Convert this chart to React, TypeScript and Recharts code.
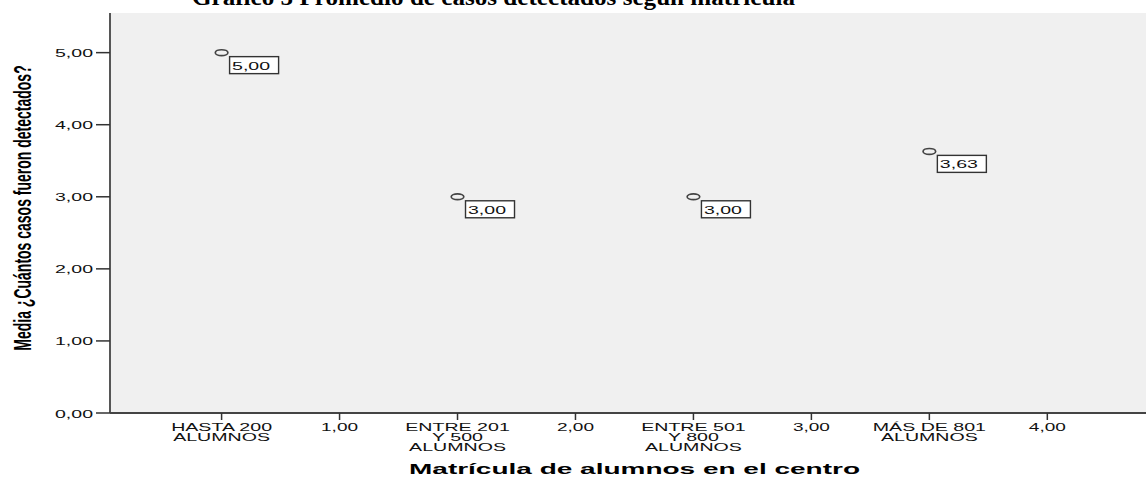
import React from "react";
import { ScatterChart, Scatter, XAxis, YAxis, CartesianGrid } from "recharts";

// categories sit between the numeric ticks (SPSS style axis)
const categoryLines = [
  ["HASTA 200", "ALUMNOS"],
  ["ENTRE 201", "Y 500", "ALUMNOS"],
  ["ENTRE 501", "Y 800", "ALUMNOS"],
  ["MÁS DE 801", "ALUMNOS"],
];
const categoryPos = [0.5, 1.5, 2.5, 3.5];
const means = [5.0, 3.0, 3.0, 3.63];
const numericTicks = [1, 2, 3, 4];
const yTicks = [0, 1, 2, 3, 4, 5];

const title = "Gráfico 5  Promedio de casos detectados según matrícula";
const xTitle = "Matrícula de alumnos en el centro";
const yTitle = "Media ¿Cuántos casos fueron detectados?";

const data = categoryPos.map((x, i) => ({ x, y: means[i] }));
const xTicks = [...categoryPos, ...numericTicks].sort((a, b) => a - b);

const SANS = "'Liberation Sans', Arial, sans-serif";
const STRETCH = 1.7;
const fmt = (v: number) => v.toFixed(2).replace(".", ",");

const XTick = (props: any) => {
  const { x, y, payload } = props;
  const v = payload.value as number;
  const idx = categoryPos.indexOf(v);
  const lines = idx >= 0 ? categoryLines[idx] : [fmt(v)];
  const sx = idx >= 0 ? 1.85 : STRETCH;
  return (
    <g transform={`translate(${x},${y}) scale(${sx},1)`}>
      <text x={0} y={9} textAnchor="middle" fontFamily={SANS} fontSize={idx >= 0 ? 10.6 : 11.2} fill="#111">
        {lines.map((l, i) => (
          <tspan key={i} x={0} dy={i === 0 ? 0 : 10}>
            {l}
          </tspan>
        ))}
      </text>
    </g>
  );
};

const YTick = (props: any) => {
  const { x, y, payload } = props;
  return (
    <g transform={`translate(${x},${y}) scale(${STRETCH},1)`}>
      <text x={0} y={4.5} textAnchor="end" fontFamily={SANS} fontSize={11.5} fill="#111">
        {fmt(payload.value)}
      </text>
    </g>
  );
};

const Marker = (props: any) => {
  const { cx, cy, payload } = props;
  return (
    <g>
      <ellipse cx={cx} cy={cy} rx={6.3} ry={2.9} fill="none" stroke="#444" strokeWidth={1.7} />
      <rect x={cx + 8} y={cy + 4} width={49} height={17} fill="#fff" stroke="#333" strokeWidth={1.4} />
      <g transform={`translate(${cx + 10.5},${cy + 17}) scale(${STRETCH},1)`}>
        <text x={0} y={0} fontFamily={SANS} fontSize={11.5} fill="#111">
          {fmt(payload.y)}
        </text>
      </g>
    </g>
  );
};

export default function App() {
  return (
    <div
      style={{
        position: "absolute",
        left: 0,
        top: 0,
        width: 1146,
        height: 477,
        overflow: "hidden",
        background: "#fff",
      }}
    >
      <svg width={1146} height={20} style={{ position: "absolute", left: 0, top: 0, zIndex: 2 }}>
        <text
          x={192}
          y={5}
          textLength={603}
          lengthAdjust="spacingAndGlyphs"
          fontFamily="'Liberation Serif', 'Times New Roman', serif"
          fontWeight="bold"
          fontSize={24}
          fill="#000"
        >
          {title}
        </text>
      </svg>
      <ScatterChart width={1170} height={477} margin={{ top: 13, right: 0, bottom: 0, left: 0 }}>
        <CartesianGrid horizontal={false} vertical={false} fill="#f0f0f0" />
        <XAxis
          xAxisId="top"
          orientation="top"
          type="number"
          dataKey="x"
          domain={[0.027, 4.52]}
          height={0}
          tick={false}
          tickLine={false}
          axisLine={{ stroke: "#888", strokeWidth: 2 }}
        />
        <XAxis
          type="number"
          dataKey="x"
          domain={[0.027, 4.52]}
          ticks={xTicks}
          interval={0}
          height={64}
          tickSize={7}
          tickMargin={2}
          tick={<XTick />}
          tickLine={{ stroke: "#333", strokeWidth: 1.5 }}
          axisLine={{ stroke: "#444", strokeWidth: 1.8 }}
          label={{
            position: "insideBottom",
            content: (p: any) => {
              const vb = p.viewBox;
              return (
                <text
                  x={409}
                  y={vb.y + 61}
                  textLength={451}
                  lengthAdjust="spacingAndGlyphs"
                  fontFamily={SANS}
                  fontWeight="bold"
                  fontSize={15}
                  fill="#000"
                >
                  {xTitle}
                </text>
              );
            },
          }}
        />
        <YAxis
          type="number"
          dataKey="y"
          domain={[0, 5.55]}
          ticks={yTicks}
          interval={0}
          width={110}
          tickSize={14}
          tickMargin={3}
          tick={<YTick />}
          tickLine={{ stroke: "#333", strokeWidth: 1.5 }}
          axisLine={{ stroke: "#444", strokeWidth: 1.8 }}
          label={{
            position: "insideLeft",
            content: (p: any) => {
              const vb = p.viewBox;
              const cy = vb.y + vb.height / 2 - 5;
              return (
                <g transform={`translate(31,${cy}) scale(${STRETCH},1) rotate(-90)`}>
                  <text x={0} y={0} textAnchor="middle" fontFamily={SANS} fontWeight="bold" fontSize={14} fill="#000">
                    {yTitle}
                  </text>
                </g>
              );
            },
          }}
        />
        <Scatter data={data} shape={<Marker />} isAnimationActive={false} />
      </ScatterChart>
    </div>
  );
}
